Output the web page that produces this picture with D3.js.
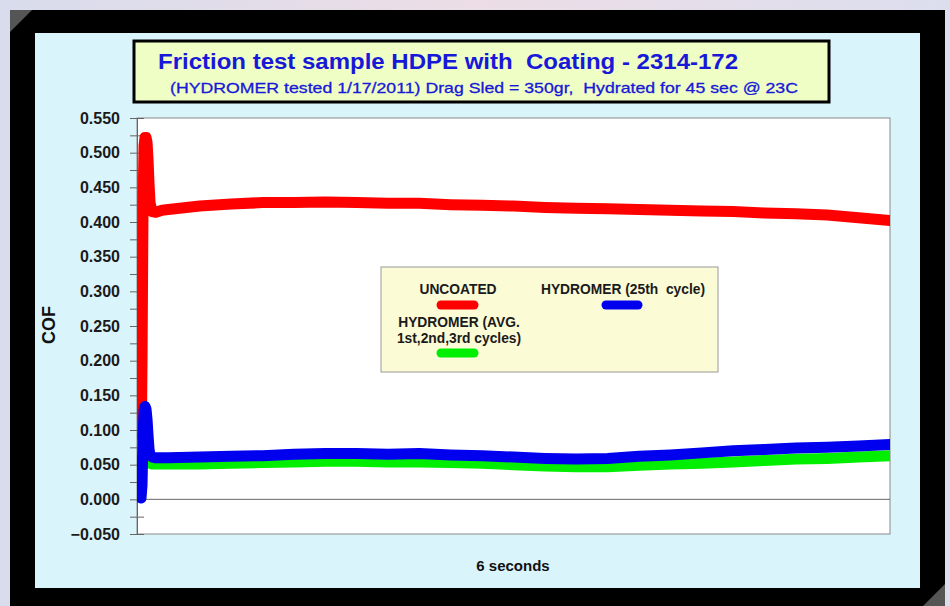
<!DOCTYPE html>
<html><head><meta charset="utf-8">
<script src="https://cdn.jsdelivr.net/npm/d3@7"></script>
<style>html,body{margin:0;padding:0;background:#e2e3ef;} svg{display:block;} text{white-space:pre;}</style>
</head><body><svg id="c" width="950" height="606"></svg>
<script>
const titleText = "Friction test sample HDPE with  Coating - 2314-172";
const subtitleText = "(HYDROMER tested 1/17/2011) Drag Sled = 350gr,  Hydrated for 45 sec @ 23C";
const yAxisTitle = "COF";
const xAxisTitle = "6 seconds";
const seriesNames = ["UNCOATED", "HYDROMER (AVG.|1st,2nd,3rd cycles)", "HYDROMER (25th  cycle)"];
const seriesColors = ["#ff0000", "#00ee00", "#0000ee"];

// time in seconds
const times = [0.032,0.040,0.048,0.056,0.064,0.072,0.080,0.088,0.096,0.104,0.120,0.150,0.200,
  0.25,0.5,0.75,1.0,1.25,1.5,1.75,2.0,2.25,2.5,2.75,3.0,3.25,3.5,3.75,4.0,4.25,4.5,4.75,5.0,5.25,5.5,5.75,6.0];
const uncoated = [0.05,0.20,0.42,0.51,0.522,0.522,0.515,0.49,0.455,0.428,0.415,0.414,0.417,
  0.418,0.423,0.426,0.428,0.428,0.429,0.428,0.427,0.427,0.425,0.424,0.423,0.421,0.420,0.419,0.418,0.417,0.416,0.415,0.413,0.412,0.410,0.406,0.402];
const hydromerAvg = [0.07,0.08,0.085,0.083,0.078,0.07,0.062,0.056,0.053,0.052,0.051,0.051,0.051,
  0.051,0.051,0.052,0.053,0.054,0.055,0.055,0.054,0.054,0.053,0.052,0.050,0.048,0.047,0.047,0.049,0.051,0.052,0.054,0.056,0.058,0.059,0.061,0.063];
const hydromer25 = [0.002,0.02,0.09,0.128,0.134,0.130,0.115,0.092,0.072,0.064,0.061,0.060,0.060,
  0.060,0.061,0.062,0.063,0.065,0.066,0.066,0.065,0.066,0.064,0.063,0.061,0.059,0.058,0.059,0.062,0.064,0.067,0.070,0.072,0.074,0.075,0.077,0.079];
const yMajorTicks = [-0.05,0,0.05,0.1,0.15,0.2,0.25,0.3,0.35,0.4,0.45,0.5,0.55];
const yMinorTicks = [-0.05,-0.025,0,0.025,0.05,0.075,0.1,0.125,0.15,0.175,0.2,0.225,0.25,0.275,0.3,0.325,0.35,0.375,0.4,0.425,0.45,0.475,0.5,0.525,0.55];

const svg = d3.select("#c");
const F = "'Liberation Sans', Arial, sans-serif";

// background
const defs = svg.append("defs");
const g1 = defs.append("linearGradient").attr("id","bg").attr("x1","0").attr("x2","1");
g1.append("stop").attr("offset","0").attr("stop-color","#d8dcec");
g1.append("stop").attr("offset","0.5").attr("stop-color","#ecdde6");
g1.append("stop").attr("offset","1").attr("stop-color","#dcdeee");
svg.append("rect").attr("width",950).attr("height",606).attr("fill","url(#bg)");
svg.append("rect").attr("x",10).attr("y",10).attr("width",935).attr("height",596).attr("fill","#000");
svg.append("polygon").attr("points","10,10 32,10 10,32").attr("fill","#555");
svg.append("polygon").attr("points","945,584 945,606 923,606").attr("fill","#555");
svg.append("rect").attr("x",35).attr("y",33).attr("width",885).attr("height",555).attr("fill","#daf4fb");

// title box
svg.append("rect").attr("x",134).attr("y",41).attr("width",695).attr("height",61)
  .attr("fill","#effec4").attr("stroke","#000").attr("stroke-width",3);
svg.append("text").attr("x",448).attr("y",69).attr("text-anchor","middle")
  .attr("font-family",F).attr("font-weight","bold").attr("font-size",22).attr("fill","#1818d8")
  .attr("textLength",580).attr("lengthAdjust","spacingAndGlyphs").text(titleText);
svg.append("text").attr("x",484).attr("y",93).attr("text-anchor","middle")
  .attr("font-family",F).attr("font-size",15).attr("fill","#1818d8").attr("stroke","#1818d8").attr("stroke-width",0.3)
  .attr("textLength",628).attr("lengthAdjust","spacingAndGlyphs").text(subtitleText);

// plot
const x = d3.scaleLinear().domain([0,6]).range([137,890]);
const y = d3.scaleLinear().domain([-0.05,0.55]).range([534,118]);
svg.append("rect").attr("x",137).attr("y",118).attr("width",753).attr("height",416)
  .attr("fill","#fff").attr("stroke","#8a8a8a").attr("stroke-width",1);
svg.append("line").attr("x1",137).attr("x2",890).attr("y1",y(0)).attr("y2",y(0)).attr("stroke","#666");

// y axis ticks (cross)
const ax = svg.append("g").attr("transform","translate(137,0)")
  .call(d3.axisLeft(y).tickValues(yMinorTicks).tickSize(7).tickFormat(""));
ax.select(".domain").attr("stroke","#666");
ax.selectAll(".tick line").attr("x1",7).attr("stroke","#666");
const al = svg.append("g").attr("transform","translate(137,0)")
  .call(d3.axisLeft(y).tickValues(yMajorTicks).tickSize(0).tickPadding(17).tickFormat(d3.format(".3f")));
al.select(".domain").remove();
al.selectAll("text").attr("font-family",F).attr("font-weight","bold").attr("font-size",16).attr("fill","#1a1a1a");

svg.append("text").attr("transform","translate(55,325) rotate(-90)").attr("text-anchor","middle")
  .attr("font-family",F).attr("font-weight","bold").attr("font-size",18).attr("fill","#111").text(yAxisTitle);
svg.append("text").attr("x",513).attr("y",571).attr("text-anchor","middle")
  .attr("font-family",F).attr("font-weight","bold").attr("font-size",15).attr("fill","#111").text(xAxisTitle);

// lines
defs.append("clipPath").attr("id","clip").append("rect").attr("x",137).attr("y",118).attr("width",753).attr("height",416);
const line = d3.line().x((d,i)=>x(times[i])).y(d=>y(d));
const lg = svg.append("g").attr("clip-path","url(#clip)");
[[uncoated,0],[hydromerAvg,1],[hydromer25,2]].forEach(([s,k])=>{
  lg.append("path").datum(s).attr("d",line).attr("fill","none").attr("stroke",seriesColors[k])
    .attr("stroke-width",11).attr("stroke-linejoin","round").attr("stroke-linecap","round");
});

// legend
svg.append("rect").attr("x",381).attr("y",267).attr("width",337).attr("height",105)
  .attr("fill","#fbfbd6").attr("stroke","#999").attr("stroke-width",1);
const legTxt = (t,xx,yy)=>svg.append("text").attr("x",xx).attr("y",yy).attr("text-anchor","middle")
  .attr("font-family",F).attr("font-weight","bold").attr("font-size",13.8).attr("fill","#1a1a1a").text(t);
const legSw = (c,x1,x2,yy)=>svg.append("line").attr("x1",x1).attr("x2",x2).attr("y1",yy).attr("y2",yy)
  .attr("stroke",c).attr("stroke-width",9).attr("stroke-linecap","round");
legTxt(seriesNames[0],458,294);
legSw(seriesColors[0],441,474,305);
const n1 = seriesNames[1].split("|");
legTxt(n1[0],459,327);
legTxt(n1[1],459,343);
legSw(seriesColors[1],441,474,353);
legTxt(seriesNames[2],623,294);
legSw(seriesColors[2],606,638,305);
</script></body></html>
